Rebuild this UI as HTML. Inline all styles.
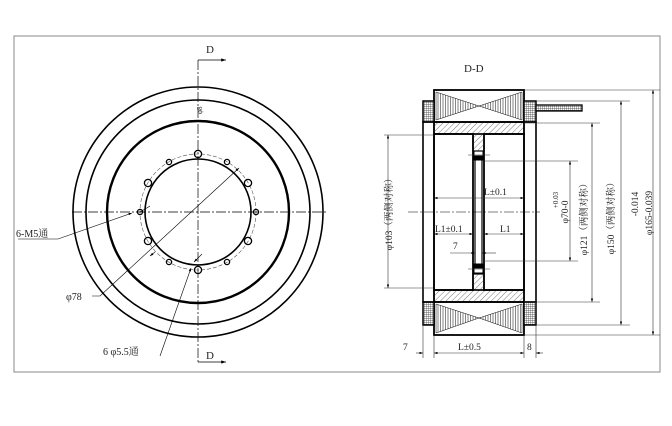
<!DOCTYPE html>
<html><head><meta charset="utf-8"><style>
html,body{margin:0;padding:0;background:#fff;}
svg{display:block;}
text{font-family:"Liberation Serif","Noto Serif CJK SC",serif;fill:#222;}
</style></head><body>
<svg width="672" height="426" viewBox="0 0 672 426" xmlns="http://www.w3.org/2000/svg">
<defs>
<pattern id="hat" width="4" height="4" patternUnits="userSpaceOnUse" patternTransform="rotate(45)">
<line x1="0" y1="0" x2="0" y2="4" stroke="#555" stroke-width="0.8"/></pattern>
<pattern id="vl" width="2.5" height="4" patternUnits="userSpaceOnUse">
<line x1="0.5" y1="0" x2="0.5" y2="4" stroke="#333" stroke-width="0.6"/></pattern>
<pattern id="grid" width="2" height="2" patternUnits="userSpaceOnUse">
<rect width="2" height="2" fill="#fff"/><path d="M0 0H2M0 0V2" stroke="#333" stroke-width="0.7"/></pattern>
<marker id="ar" markerWidth="6" markerHeight="4" refX="6" refY="2" orient="auto-start-reverse"><path d="M0 0L6 2L0 4z" fill="#000"/></marker>
</defs>
<!-- frame -->
<rect x="14" y="36" width="646" height="336" fill="none" stroke="#888" stroke-width="1"/>

<!-- LEFT VIEW -->
<g fill="none" stroke="#000">
<circle cx="198" cy="212" r="125" stroke-width="1.6"/>
<circle cx="198" cy="212" r="112" stroke-width="1.6"/>
<circle cx="198" cy="212" r="91" stroke-width="2.4"/>
<circle cx="198" cy="212" r="53" stroke-width="1.6"/>
<circle cx="198" cy="212" r="58" stroke-width="0.6" stroke-dasharray="4,2" stroke="#555"/>
<g stroke-width="1.3">
<circle cx="198" cy="154" r="3.6"/><circle cx="148" cy="183" r="3.6"/><circle cx="148" cy="241" r="3.6"/>
<circle cx="198" cy="270" r="3.6"/><circle cx="248" cy="241" r="3.6"/><circle cx="248" cy="183" r="3.6"/>
<circle cx="256" cy="212" r="2.6"/><circle cx="227" cy="162" r="2.6"/><circle cx="169" cy="162" r="2.6"/>
<circle cx="140" cy="212" r="2.6"/><circle cx="169" cy="262" r="2.6"/><circle cx="227" cy="262" r="2.6"/>
</g>
<g stroke-width="0.7" stroke-dasharray="10,2,2,2">
<line x1="72" y1="212" x2="326" y2="212"/>
<line x1="198" y1="60" x2="198" y2="362"/>
</g>
<path d="M198 60H226" stroke-width="0.8" marker-end="url(#ar)"/>
<path d="M198 362H226" stroke-width="0.8" marker-end="url(#ar)"/>
<g stroke-width="0.6">
<path d="M18 239H58L132 213" marker-end="url(#ar)"/>
<path d="M150 206L140 212"/>
<path d="M92 296H100L239 168" marker-end="url(#ar)"/>
<path d="M155 252L150 256" marker-end="url(#ar)"/>
<path d="M160 356L191 268" marker-end="url(#ar)"/>
<path d="M194 262L202 254" marker-start="url(#ar)"/>
</g>
</g>
<text x="206" y="53" font-size="11">D</text>
<text x="206" y="359" font-size="11">D</text>
<text x="16" y="237" font-size="10">6-M5通</text>
<text x="66" y="300" font-size="10">φ78</text>
<text x="103" y="355" font-size="10">6 φ5.5通</text>
<text x="0" y="0" font-size="7" transform="translate(202,114) rotate(-90)">φ8</text>

<!-- RIGHT VIEW -->
<text x="464" y="72" font-size="11">D-D</text>
<g stroke="#000" fill="none">
<!-- coils -->
<rect x="434" y="90" width="90" height="32" fill="#fff" stroke-width="1.8"/>
<path d="M436 92L479 106L522 92V120L479 106L436 120Z" fill="url(#vl)" stroke-width="0.5"/>
<rect x="434" y="302" width="90" height="33" fill="#fff" stroke-width="1.8"/>
<path d="M436 304L479 318L522 304V333L479 318L436 333Z" fill="url(#vl)" stroke-width="0.5"/>
<rect x="423" y="101" width="11" height="21" fill="url(#grid)" stroke-width="1.5"/>
<rect x="524" y="101" width="12" height="21" fill="url(#grid)" stroke-width="1.5"/>
<rect x="423" y="302" width="11" height="23" fill="url(#grid)" stroke-width="1.5"/>
<rect x="524" y="302" width="12" height="23" fill="url(#grid)" stroke-width="1.5"/>
<rect x="536" y="105" width="46" height="6" fill="url(#grid)" stroke-width="1.3"/>
<!-- rails -->
<rect x="423" y="122" width="11" height="180" stroke-width="1.6"/>
<rect x="524" y="122" width="12" height="180" stroke-width="1.6"/>
<!-- flanges -->
<rect x="434" y="122" width="90" height="12" fill="url(#hat)" stroke-width="1.6"/>
<rect x="434" y="290" width="90" height="12" fill="url(#hat)" stroke-width="1.6"/>
<rect x="434" y="134" width="39" height="156" stroke-width="1.8"/>
<rect x="484" y="134" width="40" height="156" stroke-width="1.8"/>
<rect x="473" y="134" width="11" height="17" fill="url(#hat)" stroke-width="1.2"/>
<rect x="473" y="274" width="11" height="16" fill="url(#hat)" stroke-width="1.2"/>
<rect x="474" y="151" width="9" height="5" stroke-width="1"/>
<rect x="474" y="156" width="9" height="4" fill="#000"/>
<rect x="474" y="264" width="9" height="4" fill="#000"/>
<rect x="474" y="268" width="9" height="5" stroke-width="1"/>
<line x1="475" y1="160" x2="475" y2="264" stroke-width="1.2"/>
<line x1="482" y1="160" x2="482" y2="264" stroke-width="1.2"/>
<line x1="408" y1="212" x2="540" y2="212" stroke-width="0.6" stroke-dasharray="10,2,2,2"/>
<!-- dimension lines -->
<g stroke-width="0.6" stroke="#333">
<path d="M524 90H660M524 335H660M536 101H630M536 325H630M524 123H600M524 302H600M484 161H578M484 261H578M384 135H434M384 288H434"/>
<path d="M653 90V335" marker-start="url(#ar)" marker-end="url(#ar)"/>
<path d="M621 101V325" marker-start="url(#ar)" marker-end="url(#ar)"/>
<path d="M592 123V302" marker-start="url(#ar)" marker-end="url(#ar)"/>
<path d="M570 161V261" marker-start="url(#ar)" marker-end="url(#ar)"/>
<path d="M388 135V288" marker-start="url(#ar)" marker-end="url(#ar)"/>
<path d="M423 325V358M434 335V358M524 335V358M536 325V358"/>
<path d="M416 353H423" marker-end="url(#ar)"/>
<path d="M434 353H524" marker-start="url(#ar)" marker-end="url(#ar)"/>
<path d="M543 353H536" marker-end="url(#ar)"/>
<path d="M434 198H524" marker-start="url(#ar)" marker-end="url(#ar)"/>
<path d="M434 234H473" marker-start="url(#ar)" marker-end="url(#ar)"/>
<path d="M484 234H524" marker-start="url(#ar)" marker-end="url(#ar)"/>
<path d="M450 253H475" marker-end="url(#ar)"/>
<path d="M496 253H482" marker-end="url(#ar)"/>
<path d="M468 155H490M468 269H490"/>
</g>
</g>
<g font-size="9.5">
<text x="484" y="195">L±0.1</text>
<text x="435" y="232">L1±0.1</text>
<text x="500" y="232">L1</text>
<text x="453" y="249">7</text>
<text x="403" y="350">7</text>
<text x="458" y="350">L±0.5</text>
<text x="527" y="350">8</text>
</g>
<g font-size="9.5">
<text transform="translate(392,212) rotate(-90)" text-anchor="middle">φ103（两侧对称）</text>
<text transform="translate(568,212) rotate(-90)" text-anchor="middle">φ70-0</text>
<text transform="translate(558,200) rotate(-90)" text-anchor="middle" font-size="7">+0.03</text>
<text transform="translate(587,217) rotate(-90)" text-anchor="middle">φ121（两侧对称）</text>
<text transform="translate(614,216) rotate(-90)" text-anchor="middle">φ150（两侧对称）</text>
<text transform="translate(638,204) rotate(-90)" text-anchor="middle">-0.014</text>
<text transform="translate(652,213) rotate(-90)" text-anchor="middle">φ165-0.039</text>
</g>
</svg>
</body></html>
